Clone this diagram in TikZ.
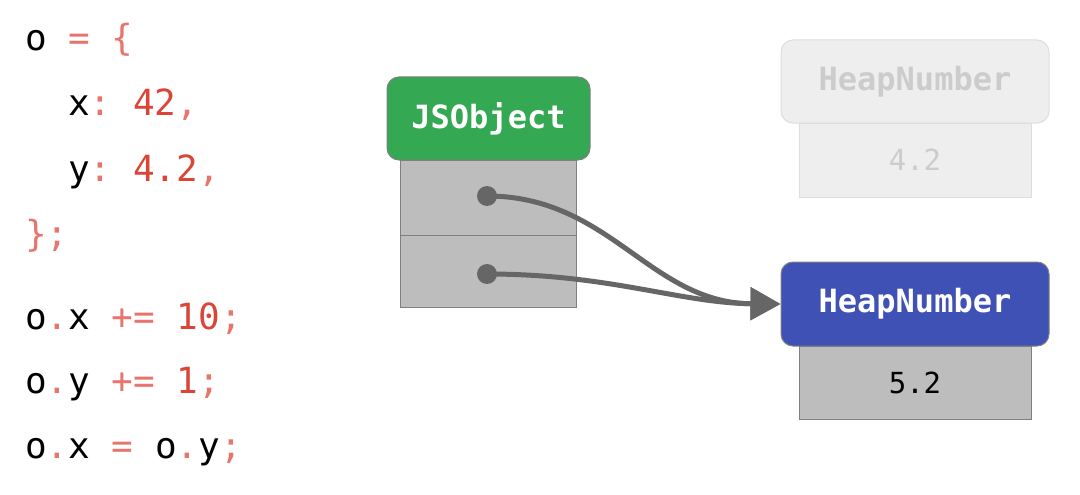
\documentclass[tikz,border=0pt]{standalone}
\usepackage{fontspec}
\setmonofont{DejaVu Sans Mono}
\usetikzlibrary{arrows.meta}
\definecolor{punc}{HTML}{E8756D}
\definecolor{numc}{HTML}{DB4437}
\definecolor{gbox}{HTML}{34A853}
\definecolor{bbox}{HTML}{3F51B5}
\definecolor{cellc}{HTML}{BDBDBD}
\definecolor{edgec}{HTML}{808080}
\definecolor{linec}{HTML}{666666}
\definecolor{fadefill}{HTML}{EEEEEE}
\definecolor{fadeedge}{HTML}{DDDDDD}
\definecolor{fadetext}{HTML}{CCCCCC}
\newcommand\pu[1]{\textcolor{punc}{#1}}
\newcommand\nm[1]{\textcolor{numc}{#1}}
\tikzset{
  codeline/.style={anchor=base west, inner sep=0pt, font=\ttfamily\fontsize{36}{36}\selectfont, text=black},
  headbox/.style={draw=edgec, line width=1pt, rounded corners=12pt, minimum width=203pt, minimum height=83pt, inner sep=0pt, text=white, font=\ttfamily\bfseries\fontsize{32}{32}\selectfont},
  cellbox/.style={draw=edgec, line width=1pt, fill=cellc, minimum width=176pt, inner sep=0pt, font=\ttfamily\fontsize{29}{29}\selectfont},
  ptrdot/.style={circle, fill=linec, minimum size=20pt, inner sep=0pt},
  ptr/.style={draw=linec, line width=5pt, -{Triangle[length=30pt,width=32pt]}},
}
\begin{document}
\begin{tikzpicture}[x=1pt,y=-1pt]
\useasboundingbox (0,0) rectangle (1080,495);
% code
\node[codeline] (c1) at (25,51) {o \pu{=} \pu{\{}};
\node[codeline] (c2) at (68,116) {x\pu{:} \nm{42}\pu{,}};
\node[codeline] (c3) at (68,181) {y\pu{:} \nm{4.2}\pu{,}};
\node[codeline] (c4) at (25,246) {\pu{\};}};
\node[codeline] (c5) at (25,329) {o\pu{.}x \pu{+=} \nm{10}\pu{;}};
\node[codeline] (c6) at (25,393) {o\pu{.}y \pu{+=} \nm{1}\pu{;}};
\node[codeline] (c7) at (25,458) {o\pu{.}x \pu{=} o\pu{.}y\pu{;}};
% JSObject
\node[cellbox, minimum height=75pt] (cell1) at (488,197.5) {};
\node[cellbox, minimum height=72pt] (cell2) at (488,271) {};
\node[headbox, fill=gbox] (js) at (488.5,118.5) {JSObject};
% faded HeapNumber
\node[cellbox, minimum width=232pt, minimum height=74pt, fill=fadefill, draw=fadeedge, text=fadetext] (oldval) at (915,160) {4.2};
\node[headbox, fill=fadefill, draw=fadeedge, text=fadetext, minimum width=268pt] (oldhn) at (915,81.5) {HeapNumber};
% new HeapNumber
\node[cellbox, minimum width=232pt, minimum height=73pt] (newval) at (915,382.5) {5.2};
\node[headbox, fill=bbox, minimum width=268pt, minimum height=84pt] (hn) at (915,304) {HeapNumber};
% pointers
\node[ptrdot] (d1) at (487,196) {};
\node[ptrdot] (d2) at (487,274) {};
\coordinate (tip) at (hn.west);
\draw[ptr] (d1.center) .. controls (610,196) and (650,303) .. (tip);
\draw[ptr] (d2.center) .. controls (610,274) and (680,303) .. (tip);
\end{tikzpicture}
\end{document}
